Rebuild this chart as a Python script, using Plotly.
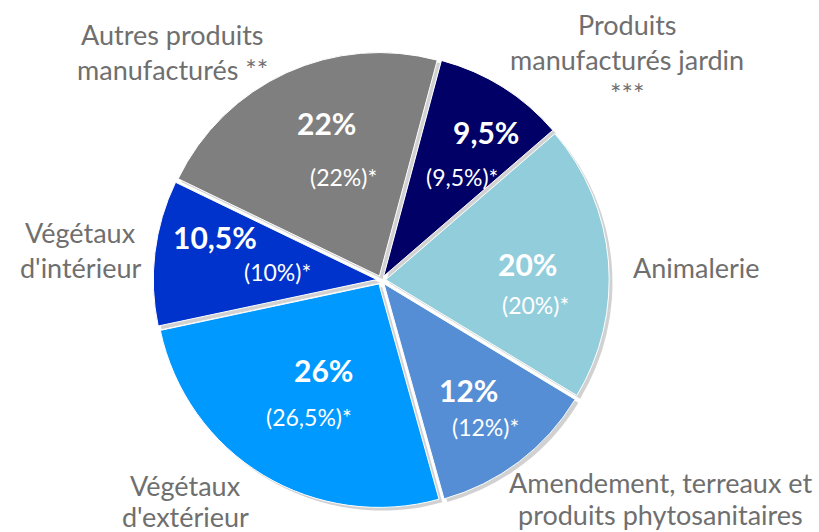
import plotly.graph_objects as go

# Data (clockwise from the top-right slice)
categories = ["Produits manufacturés jardin", "Animalerie",
              "Amendement, terreaux et produits phytosanitaires",
              "Végétaux d'extérieur", "Végétaux d'intérieur",
              "Autres produits manufacturés"]
values = [9.5, 20, 12, 26, 10.5, 22]
main_labels = ["9,5%", "20%", "12%", "26%", "10,5%", "22%"]
prev_labels = ["(9,5%)*", "(20%)*", "(12%)*", "(26,5%)*", "(10%)*", "(22%)*"]
colors = ["#000066", "#92CDDC", "#558ED5", "#0099FF", "#0033CC", "#7F7F7F"]

W, H = 819, 532
FONT = "Lato"
GREY = "#6F6F6F"

fig = go.Figure()
# soft shadow under the slices
fig.add_trace(go.Pie(
    labels=categories, values=values, sort=False, direction="clockwise",
    rotation=15, pull=0.02, textinfo="none", hoverinfo="skip",
    marker=dict(colors=["rgba(0,0,0,0.18)"] * 6, line=dict(width=0)),
    domain=dict(x=[0.191, 0.748], y=[0.039, 0.896]),
    showlegend=False,
))
fig.add_trace(go.Pie(
    labels=categories, values=values, sort=False, direction="clockwise",
    rotation=15, pull=0.02, textinfo="none", hoverinfo="label+percent",
    marker=dict(colors=colors, line=dict(color="white", width=1)),
    domain=dict(x=[0.187, 0.744], y=[0.045, 0.902]),
    showlegend=False,
))

def px(x, y):
    return x / W, 1 - y / H

def label(text, x, y, size, color):
    ax, ay = px(x, y)
    fig.add_annotation(x=ax, y=ay, xref="paper", yref="paper", text=text,
                       xanchor="center", yanchor="middle", showarrow=False,
                       font=dict(family=FONT, size=size, color=color))

# label positions in pixels (text centre)
main_pos = [(486, 132), (527, 264), (469, 390), (323, 370), (215, 237), (326, 123)]
prev_pos = [(462, 177), (535, 305), (485, 427), (309, 417), (277, 272), (343, 177)]

for lab, (x, y) in zip(main_labels, main_pos):
    label("<b>%s</b>" % lab, x, y, 30, "white")
for lab, (x, y) in zip(prev_labels, prev_pos):
    label(lab, x, y, 23, "white")

# outside category labels, one annotation per line
outside = [
    (["Produits", "manufacturés jardin", "***"], 627, [24, 60, 94]),
    (["Animalerie"], 696, [267]),
    (["Amendement, terreaux et", "produits phytosanitaires"], 660, [482, 514]),
    (["Végétaux", "d'extérieur"], 185, [485, 516]),
    (["Végétaux", "d'intérieur"], 80, [232, 267]),
    (["Autres produits", "manufacturés **"], 172, [35, 70]),
]
for lines, x, ys in outside:
    for line, y in zip(lines, ys):
        label(line, x, y, 27, GREY)

fig.update_layout(
    width=W, height=H,
    margin=dict(l=0, r=0, t=0, b=0, autoexpand=False),
    paper_bgcolor="white", plot_bgcolor="white",
)

fig.write_html("out.html", config={"displayModeBar": False},
               post_script="document.body.style.margin='0';")
